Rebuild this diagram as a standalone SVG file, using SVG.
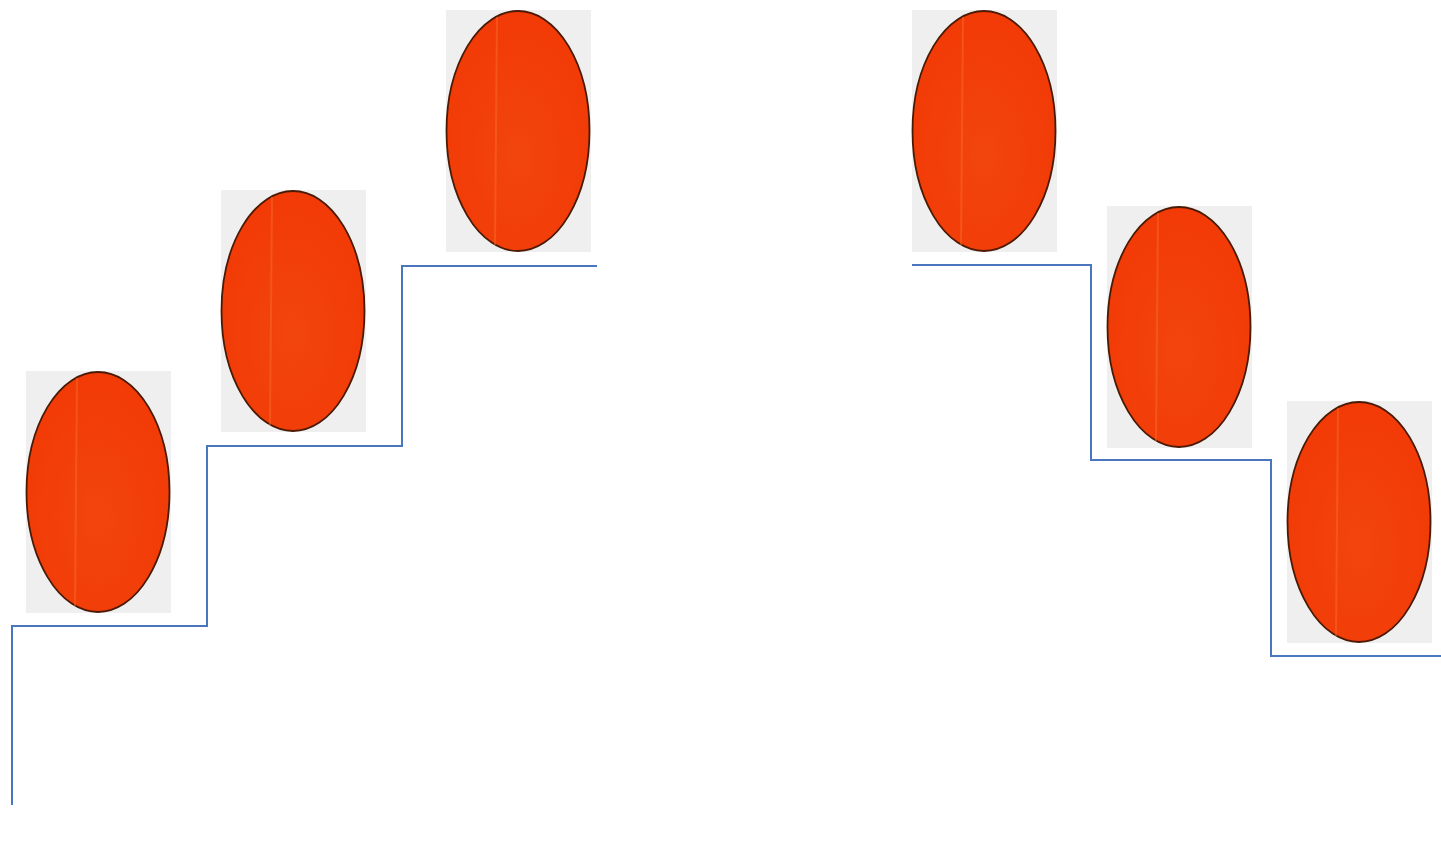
<svg xmlns="http://www.w3.org/2000/svg" width="1441" height="850" viewBox="0 0 1441 850">
<defs>
<radialGradient id="og" cx="0.5" cy="0.6" r="0.6">
<stop offset="0" stop-color="#f2450e"/>
<stop offset="1" stop-color="#f23a06"/>
</radialGradient>
<g id="egg">
<rect x="-72" y="-121" width="145" height="242" fill="#efefef"/>
<ellipse cx="0" cy="0" rx="71.5" ry="120" fill="url(#og)" stroke="#4a1a05" stroke-width="1.8"/>
<line x1="-21" y1="-114" x2="-23" y2="114" stroke="#f7702e" stroke-width="2" opacity="0.45"/>
</g>
</defs>
<style>
.step{fill:none;stroke:#4a76c0;stroke-width:2}
</style>
<rect width="1441" height="850" fill="#ffffff"/>
<g id="connectors">
<polyline class="step" points="12,805 12,626 207,626 207,446 402,446 402,266 597,266"/>
<polyline class="step" points="912,265 1091,265 1091,460 1271,460 1271,656 1441,656"/>
</g>
<g id="egg1"><use href="#egg" x="98" y="492"/></g>
<g id="egg2"><use href="#egg" x="293" y="311"/></g>
<g id="egg3"><use href="#egg" x="518" y="131"/></g>
<g id="egg4"><use href="#egg" x="984" y="131"/></g>
<g id="egg5"><use href="#egg" x="1179" y="327"/></g>
<g id="egg6"><use href="#egg" x="1359" y="522"/></g>
</svg>
